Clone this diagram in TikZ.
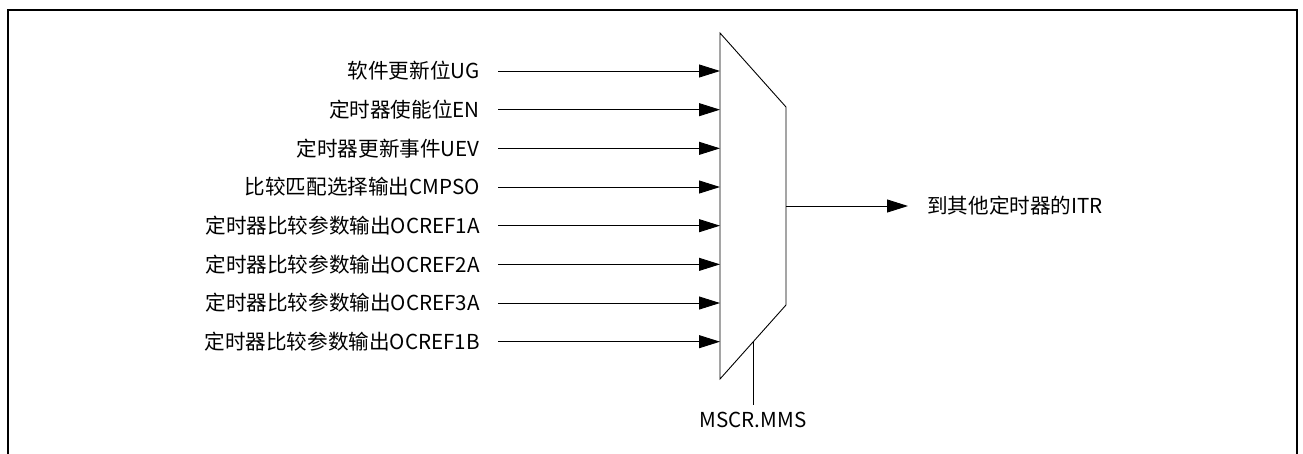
\documentclass[tikz,border=0pt]{standalone}
\usepackage{fontspec}
\setmainfont{Noto Sans CJK SC}
\usetikzlibrary{arrows.meta,calc}
\tikzset{
    >={Triangle[length=21pt,width=13pt]},
    frame/.style={line width=1.6pt},
    muxline/.style={draw, line width=0.9pt},
    sig/.style={->, line width=0.9pt},
    inlabel/.style={anchor=east, inner xsep=18pt, inner ysep=0pt, font=\fontsize{20.6}{24}\selectfont},
    outlabel/.style={anchor=west, inner xsep=19pt, inner ysep=0pt, font=\fontsize{20.6}{24}\selectfont},
    sellabel/.style={anchor=north, inner xsep=0pt, inner ysep=7pt, font=\fontsize{20.6}{24}\selectfont}
}
\begin{document}
\begin{tikzpicture}[x=1pt, y=-1pt]
    \useasboundingbox (0,0) rectangle (1303,453);
    \draw[frame] (8,470) -- (8,10) -- (1297,10) -- (1297,470);

    % selector
    \coordinate (mtl) at (720,33);
    \coordinate (mtr) at (786,107);
    \coordinate (mbr) at (786,305);
    \coordinate (mbl) at (720,379);
    \draw[muxline] (mtl) -- (mtr) -- (mbr) -- (mbl) -- cycle;

    % inputs
    \foreach \txt [count=\i from 0] in {软件更新位UG, 定时器使能位EN, 定时器更新事件UEV,
        比较匹配选择输出CMPSO, 定时器比较参数输出OCREF1A, 定时器比较参数输出OCREF2A,
        定时器比较参数输出OCREF3A, 定时器比较参数输出OCREF1B} {
        \node[inlabel] (in\i) at (498, {71+38.67*\i}) {\txt};
        \draw[sig] (in\i.east) -- (in\i.east -| mtl);
    }

    % output
    \coordinate (mout) at ($(mtr)!0.5!(mbr)$);
    \node[outlabel] (itr) at ($(mout)+(122,0)$) {到其他定时器的ITR};
    \draw[sig] (mout) -- (itr.west);

    % select
    \coordinate (msel) at ($(mbr)!0.5!(mbl)$);
    \node[sellabel] (mms) at (753,405) {MSCR.MMS};
    \draw[muxline] (msel) -- (mms.north);
\end{tikzpicture}
\end{document}
